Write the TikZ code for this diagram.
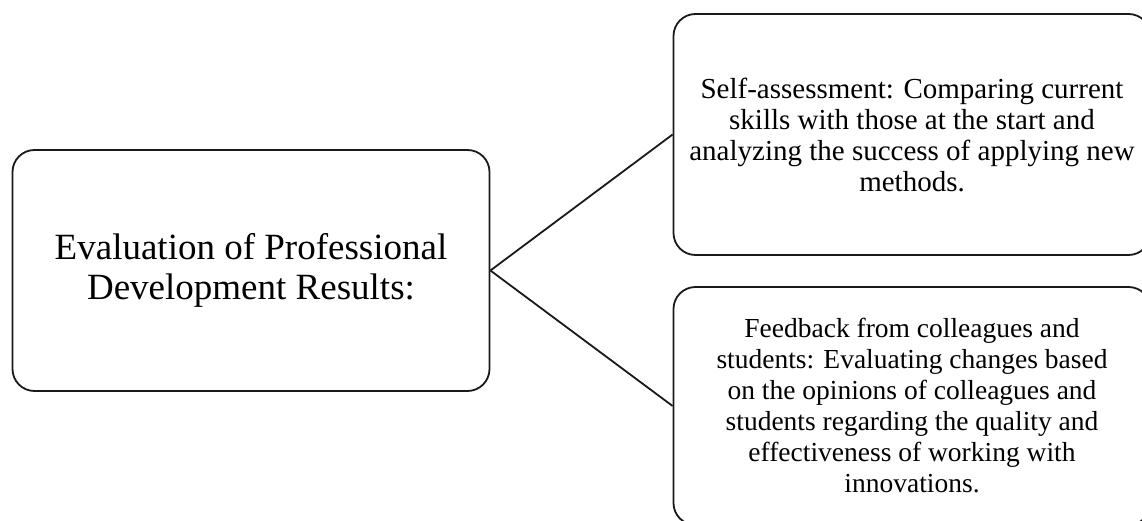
\documentclass[tikz,border=0pt]{standalone}
\usepackage{fontspec}
\setmainfont{Liberation Serif}
\usetikzlibrary{positioning}
\begin{document}
\begin{tikzpicture}[x=1pt,y=1pt,
                       main box/.style={draw=black!90,rounded corners=22pt,line width=1.8pt,
                                        align=center,inner sep=0pt,minimum width=477pt,
                                        minimum height=241pt}
                           ]
   \useasboundingbox (0,0) rectangle (1142,520);
   \node[main box,font=\fontsize{37}{40}\selectfont] (eval) at (251,249.5)
        {Evaluation of Professional\\Development Results:};
   \node[main box,font=\fontsize{29}{31}\selectfont] (self) at (912,385.5)
        {Self-assessment: Comparing current\\skills with those at the start and\\analyzing the success of applying new\\methods.};
   \node[main box,font=\fontsize{27.5}{31}\selectfont,minimum height=238pt] (feed) at (912,114)
        {Feedback from colleagues and\\students: Evaluating changes based\\on the opinions of colleagues and\\students regarding the quality and\\effectiveness of working with\\innovations.};
      \path[line width=1.8pt,draw=black!90]%
    (eval.east) edge (self.west)
    (eval.east) edge (feed.west);
      \end{tikzpicture}
\end{document}
